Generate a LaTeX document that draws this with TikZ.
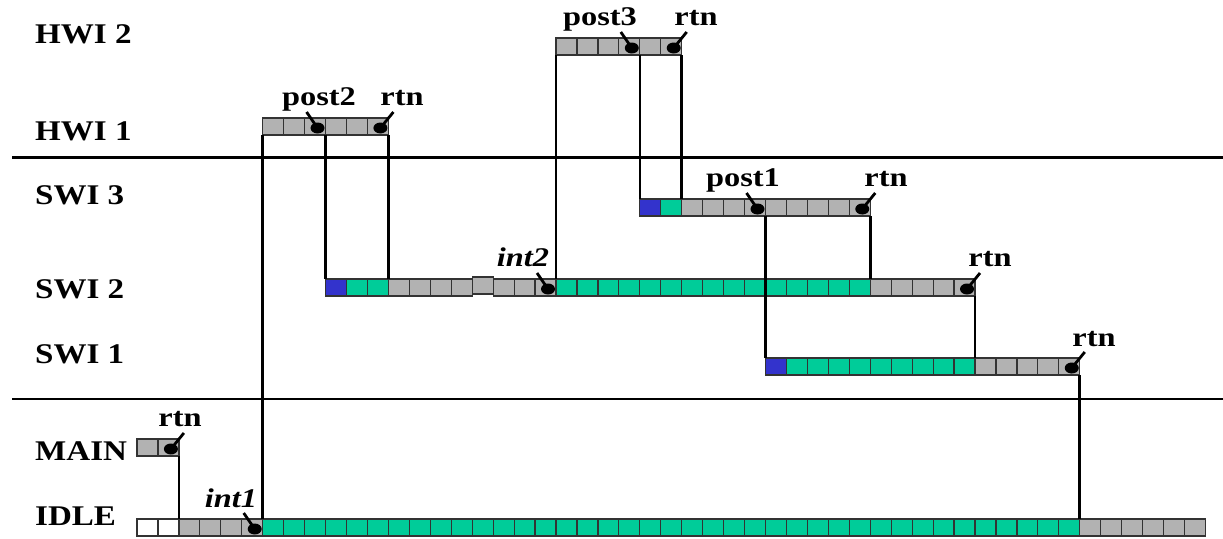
\documentclass[tikz,border=0pt]{standalone}
\usepackage{fontspec}
\setmainfont{Liberation Serif}
\newfontfamily\rowfont[FakeStretch=1.16]{Liberation Serif}
\newfontfamily\tagfont[FakeStretch=1.2]{Liberation Serif}
\definecolor{cgray}{HTML}{B2B2B2}
\definecolor{cgreen}{HTML}{00CC99}
\definecolor{cblue}{HTML}{3333CC}
\definecolor{cedge}{HTML}{333333}
\newcommand\xo{137}
\newcommand\cw{20.95}
\newcommand\ch{17}
\newcommand\cellrun[5]{%
  \foreach \i in {#3,...,#4}{\draw[cellbox,fill=#5] ({\xo+\i*\cw},#2) rectangle ++(\cw,\ch);}
  \pgfmathtruncatemacro\lastb{#4+1}%
  \foreach \i in {#3,...,\lastb}{\coordinate (#1-\i-t) at ({\xo+\i*\cw},#2); \coordinate (#1-\i-b) at ({\xo+\i*\cw},#2+\ch);}%
}
\newcommand\dotl[2]{% dot in cell before boundary #2, leader up-left
  \fill ([xshift=-8pt,yshift=-10pt]#1-#2-t) ellipse (7pt and 5.5pt);
  \draw[leader] ([xshift=-8pt,yshift=-10pt]#1-#2-t) -- ([xshift=-19pt,yshift=6pt]#1-#2-t);}
\newcommand\dotr[2]{% leader up-right
  \fill ([xshift=-8pt,yshift=-10pt]#1-#2-t) ellipse (7pt and 5.5pt);
  \draw[leader] ([xshift=-8pt,yshift=-10pt]#1-#2-t) -- ([xshift=5pt,yshift=6pt]#1-#2-t);}
\tikzset{
  cellbox/.style={draw=cedge,line width=1.2pt},
  conn/.style={draw=black,line width=2.6pt},
  sep/.style={draw=black,line width=2.4pt},
  leader/.style={draw=black,line width=2.8pt},
  rowlabel/.style={anchor=base west,inner sep=0pt,font=\rowfont\bfseries\fontsize{28.5}{28.5}\selectfont},
  tag/.style={anchor=base,inner sep=0pt,font=\tagfont\bfseries\fontsize{27}{27}\selectfont},
  itag/.style={anchor=base,inner sep=0pt,font=\tagfont\bfseries\itshape\fontsize{27}{27}\selectfont}
}
\begin{document}
\begin{tikzpicture}[x=1pt,y=-1pt]
\useasboundingbox (0,0) rectangle (1223,538);
% separators
\coordinate (s1a) at (12,157.5); \coordinate (s1b) at (1223,157.5);
\coordinate (s2a) at (12,399); \coordinate (s2b) at (1223,399);
\draw[sep] (s1a) -- (s1b);
\draw[sep] (s2a) -- (s2b);
% row labels
\node[rowlabel] (lh2) at (35,43) {HWI 2};
\node[rowlabel] (lh1) at (35,140) {HWI 1};
\node[rowlabel] (ls3) at (35,204) {SWI 3};
\node[rowlabel] (ls2) at (35,298) {SWI 2};
\node[rowlabel] (ls1) at (35,363) {SWI 1};
\node[rowlabel] (lmain) at (35,460) {MAIN};
\node[rowlabel] (lidle) at (35,525) {IDLE};
% bars
\cellrun{HWI2}{38}{20}{25}{cgray}
\cellrun{HWI1}{118}{6}{11}{cgray}
\cellrun{SWI3}{199}{24}{24}{cblue}
\cellrun{SWI3}{199}{25}{25}{cgreen}
\cellrun{SWI3}{199}{26}{34}{cgray}
\cellrun{SWI2}{279}{9}{9}{cblue}
\cellrun{SWI2}{279}{10}{11}{cgreen}
\cellrun{SWI2}{279}{12}{15}{cgray}
\cellrun{SWI2}{279}{17}{19}{cgray}
\cellrun{SWI2}{279}{20}{34}{cgreen}
\cellrun{SWI2}{279}{35}{39}{cgray}
\draw[cellbox,fill=cgray] ({\xo+16*\cw},277) rectangle ++(\cw,\ch);
\cellrun{SWI1}{358}{30}{30}{cblue}
\cellrun{SWI1}{358}{31}{39}{cgreen}
\cellrun{SWI1}{358}{40}{44}{cgray}
\cellrun{MAIN}{439}{0}{1}{cgray}
\cellrun{IDLE}{519}{0}{1}{white}
\cellrun{IDLE}{519}{2}{5}{cgray}
\cellrun{IDLE}{519}{6}{44}{cgreen}
\cellrun{IDLE}{519}{45}{50}{cgray}
% connectors
\draw[conn] (MAIN-2-b) -- (IDLE-2-t);
\draw[conn] (IDLE-6-t) -- (HWI1-6-b);
\draw[conn] (HWI1-9-b) -- (SWI2-9-t);
\draw[conn] (HWI1-12-b) -- (SWI2-12-t);
\draw[conn] (SWI2-20-t) -- (HWI2-20-b);
\draw[conn] (HWI2-24-b) -- (SWI3-24-t);
\draw[conn] (HWI2-26-b) -- (SWI3-26-t);
\draw[conn] (SWI3-30-b) -- (SWI1-30-t);
\draw[conn] (SWI3-35-b) -- (SWI2-35-t);
\draw[conn] (SWI2-40-b) -- (SWI1-40-t);
\draw[conn] (SWI1-45-b) -- (IDLE-45-t);
% dots and leaders
\dotl{HWI1}{9}
\dotr{HWI1}{12}
\dotl{HWI2}{24}
\dotr{HWI2}{26}
\dotl{SWI3}{30}
\dotr{SWI3}{35}
\dotl{SWI2}{20}
\dotr{SWI2}{40}
\dotr{SWI1}{45}
\dotr{MAIN}{2}
\dotl{IDLE}{6}
% tags
\node[tag] (tpost2) at (319,105) {post2};
\node[tag] (trtn1) at (402,105) {rtn};
\node[tag] (tpost3) at (600,25) {post3};
\node[tag] (trtn2) at (696,25) {rtn};
\node[tag] (tpost1) at (743,186) {post1};
\node[tag] (trtn3) at (886,186) {rtn};
\node[tag] (trtn4) at (990,266) {rtn};
\node[tag] (trtn5) at (1094,346) {rtn};
\node[tag] (trtn6) at (180,426) {rtn};
\node[itag] (tint1) at (231,507) {int1};
\node[itag] (tint2) at (523,266) {int2};
\end{tikzpicture}
\end{document}
